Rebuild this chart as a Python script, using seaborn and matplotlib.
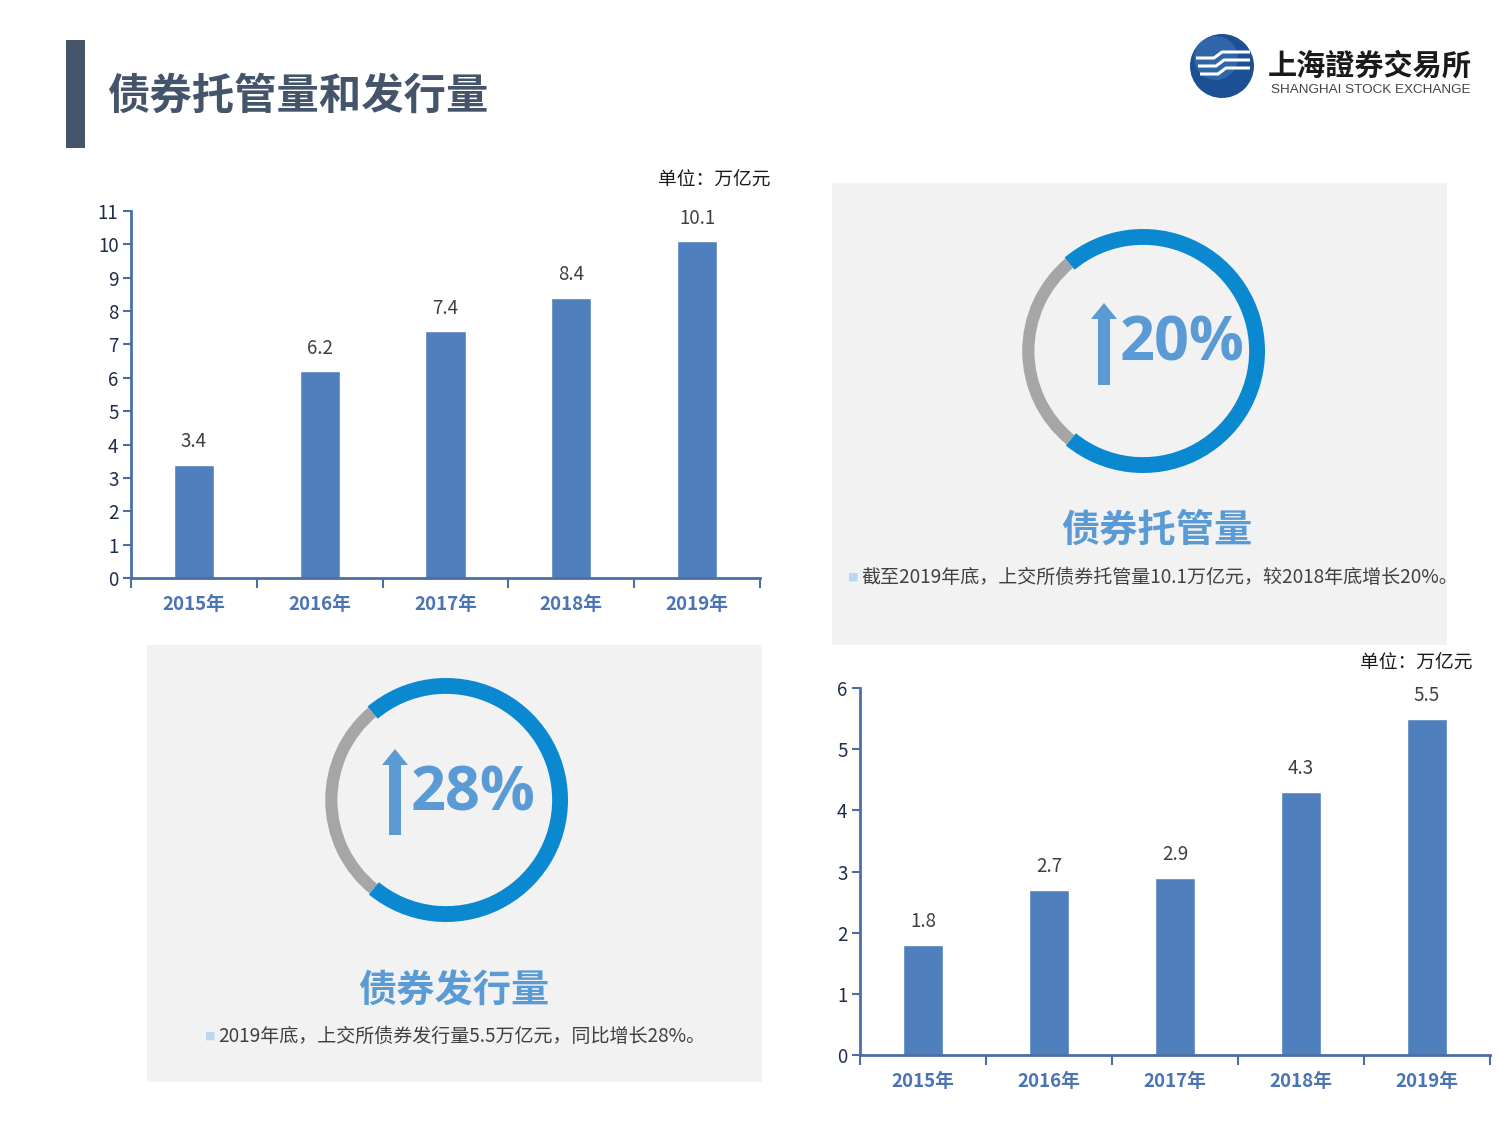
import numpy as np
import pandas as pd
import matplotlib
matplotlib.use("Agg")
import matplotlib.pyplot as plt
import seaborn as sns
from matplotlib.patches import Rectangle, FancyArrow, Circle

# ---------------- data ----------------
years = ["2015年", "2016年", "2017年", "2018年", "2019年"]
custody = [3.4, 6.2, 7.4, 8.4, 10.1]      # 债券托管量 (万亿元)
issuance = [1.8, 2.7, 2.9, 4.3, 5.5]      # 债券发行量 (万亿元)
custody_yticks = list(range(0, 12))
issuance_yticks = list(range(0, 7))
ring_gray = [28, 28]
ring_blue = [72, 72]
ring_pct = ["20%", "28%"]
ring_titles = ["债券托管量", "债券发行量"]
ring_notes = ["截至2019年底，上交所债券托管量10.1万亿元，较2018年底增长20%。",
              "2019年底，上交所债券发行量5.5万亿元，同比增长28%。"]
main_title = "债券托管量和发行量"
unit_text = "单位：万亿元"

# ---------------- style ----------------
sns.set_style("white")
plt.rcParams["font.family"] = ["Noto Sans CJK SC", "DejaVu Sans"]

W, H = 1500, 1125
fig = plt.figure(figsize=(15, 11.25), dpi=100)
fig.patch.set_facecolor("white")

BAR = "#4f7fbd"
AXC = "#4a6fa5"
XLAB = "#4a74b4"
TXT = "#404040"
RING_BLUE = "#0a88d0"
RING_GRAY = "#a6a6a6"
PCT = "#5b9bd5"
PANEL = "#f2f2f2"
TITLE = "#44546a"


def fa(x0, y0, x1, y1):
    """pixel box (top-left origin) -> figure axes rect"""
    return [x0 / W, 1 - y1 / H, (x1 - x0) / W, (y1 - y0) / H]


# overlay in pixel coordinates
ov = fig.add_axes([0, 0, 1, 1])
ov.set_xlim(0, W)
ov.set_ylim(H, 0)
ov.axis("off")

# title
ov.add_patch(Rectangle((66, 40), 19, 108, color=TITLE, lw=0))
ov.text(107, 97, main_title, fontsize=30.5, fontweight="bold", color=TITLE,
        va="center", ha="left")

# panels
ov.add_patch(Rectangle((832, 183), 615, 462, color=PANEL, lw=0))
ov.add_patch(Rectangle((147, 645), 615, 437, color=PANEL, lw=0))

# logo
ov.add_patch(Circle((1222, 66), 32, color="#1c4f93", lw=0))
ov.add_patch(Circle((1216, 58), 22, color="#3c74b8", lw=0, alpha=0.6))
for k, yy in enumerate([56, 64, 72]):
    ov.plot([1196 + k * 2, 1214 + k * 2, 1222 + k * 2, 1250],
            [yy + 2, yy + 2, yy - 4, yy - 4], color="white", lw=2.2,
            solid_capstyle="butt")
ov.text(1268, 66, "上海證券交易所", fontsize=21, fontweight="bold", color="#1a1a1a",
        va="center", ha="left", family=["Noto Sans CJK TC", "DejaVu Sans"])
ov.text(1271, 90, "SHANGHAI STOCK EXCHANGE", fontsize=9.7, color="#444444",
        va="center", ha="left", family=["Liberation Sans", "DejaVu Sans"])

# unit labels
ov.text(714, 180, unit_text, fontsize=13.5, color="#1a1a1a", ha="center", va="center")
ov.text(1416, 663, unit_text, fontsize=13.5, color="#1a1a1a", ha="center", va="center")

# ring captions / notes
ring_specs = [
    dict(cx=1143, cy=351, title_xy=(1157, 530), note_xy=(848, 577),
         arrow_x=1104, arrow_y0=385, arrow_y1=303, pct_x=1120, pct_y=345),
    dict(cx=446, cy=800, title_xy=(454, 991), note_xy=(205, 1036),
         arrow_x=395, arrow_y0=835, arrow_y1=749, pct_x=411, pct_y=795),
]
for i, s in enumerate(ring_specs):
    ov.text(*s["title_xy"], ring_titles[i], fontsize=27.5, fontweight="bold",
            color=PCT, ha="center", va="center")
    ov.text(s["note_xy"][0], s["note_xy"][1], "■", fontsize=8, color="#bdd7ee",
            ha="left", va="center", family=["DejaVu Sans"])
    ov.text(s["note_xy"][0] + 13, s["note_xy"][1], ring_notes[i], fontsize=13.7,
            color=TXT, ha="left", va="center")
    # arrow
    L = s["arrow_y0"] - s["arrow_y1"]
    ov.add_patch(FancyArrow(s["arrow_x"], s["arrow_y0"], 0, -L, width=12,
                            head_width=26, head_length=16,
                            length_includes_head=True, color=PCT, lw=0))
    ov.text(s["pct_x"], s["pct_y"], ring_pct[i], fontsize=44, fontweight="bold",
            color=PCT, ha="left", va="center",
            family=["Open Sans", "DejaVu Sans"])

# rings
R = 122
for i, s in enumerate(ring_specs):
    rax = fig.add_axes(fa(s["cx"] - R, s["cy"] - R, s["cx"] + R, s["cy"] + R))
    # thin gray base circle
    rax.pie([1], radius=0.93, colors=[RING_GRAY], startangle=0,
            wedgeprops=dict(width=0.015, linewidth=0))
    wedges, _ = rax.pie([ring_gray[i], ring_blue[i]], radius=1.0,
                        colors=[RING_GRAY, RING_BLUE], startangle=130,
                        counterclock=True,
                        wedgeprops=dict(width=0.13, linewidth=0))
    wedges[0].set_radius(0.99)
    wedges[0].set_width(0.10)
    rax.set_xlim(-1, 1)
    rax.set_ylim(-1, 1)
    rax.set_aspect("equal")
    rax.axis("off")


def bar_chart(rect, values, yticks):
    ax = fig.add_axes(rect)
    df = pd.DataFrame({"year": years, "value": values})
    sns.barplot(data=df, x="year", y="value", color=BAR, width=0.32,
                saturation=1, ax=ax)
    ax.set_facecolor("none")
    ax.set_xlim(-0.5, len(years) - 0.5)
    ax.set_ylim(0, yticks[-1])
    ax.set_yticks(yticks)
    ax.set_xlabel("")
    ax.set_ylabel("")
    for sp in ["top", "right"]:
        ax.spines[sp].set_visible(False)
    for sp in ["left", "bottom"]:
        ax.spines[sp].set_color(AXC)
        ax.spines[sp].set_linewidth(2)
    ax.tick_params(axis="y", length=6, width=1.5, color=AXC, direction="out",
                   labelsize=13.5, labelcolor="#1f2d4a", pad=3, left=True)
    ax.tick_params(axis="x", which="major", length=0, pad=12, labelsize=13.5,
                   labelcolor=XLAB, bottom=True)
    for lab in ax.get_xticklabels():
        lab.set_fontweight("bold")
    ax.set_xticks(np.arange(-0.5, len(years)), minor=True)
    ax.tick_params(axis="x", which="minor", length=7, width=1.5, color=AXC,
                   direction="out", bottom=True)
    ax.bar_label(ax.containers[0], fmt="%.1f", padding=9, fontsize=13.5,
                 color=TXT)
    ax.grid(False)
    return ax


bar_chart(fa(131, 211, 760, 578), custody, custody_yticks)
bar_chart(fa(860, 688, 1490, 1055), issuance, issuance_yticks)

fig.savefig("out.png", dpi=100, facecolor="white")
